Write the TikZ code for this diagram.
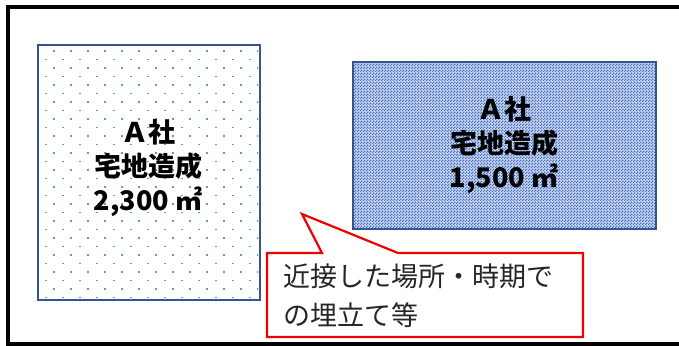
\documentclass[tikz,border=0pt]{standalone}
\usepackage{fontspec}
\usetikzlibrary{patterns}
\newfontfamily\jp{Noto Sans CJK JP}
\definecolor{boxedge}{RGB}{52,84,145}
\definecolor{dotblue}{RGB}{91,155,213}
\definecolor{checkbg}{RGB}{200,212,238}
\definecolor{checkfg}{RGB}{68,110,196}
\definecolor{callred}{RGB}{238,0,0}
\pgfdeclarepatternformonly{fineck}{\pgfpointorigin}{\pgfpoint{3pt}{3pt}}{\pgfpoint{3pt}{3pt}}{%
  \pgfpathrectangle{\pgfpointorigin}{\pgfpoint{1.5pt}{1.5pt}}%
  \pgfpathrectangle{\pgfpoint{1.5pt}{1.5pt}}{\pgfpoint{1.5pt}{1.5pt}}%
  \pgfusepath{fill}}
\tikzset{
  landbox/.style={draw=boxedge,line width=2.4pt},
  landtext/.style={align=center,font=\jp\bfseries\fontsize{27}{34}\selectfont,inner sep=0pt},
  calltext/.style={align=left,anchor=north west,font=\jp\fontsize{27}{39}\selectfont,text=black!85,inner sep=0pt},
}
\begin{document}
\begin{tikzpicture}[x=1pt,y=-1pt]
\useasboundingbox (0,0) rectangle (679,345);
% outer frame
\draw[line width=3.2pt,black] (8,7) rectangle (700,344);
% left box with dot pattern
\fill[white] (37,44) rectangle (259,299);
\begin{scope}
\clip (38,45) rectangle (258,298);
\foreach \k in {0,...,29}{
  \pgfmathsetmacro{\yy}{51+8.5*\k}
  \ifodd\k
    \foreach \j in {0,...,13}{\fill[dotblue] ({46+17*\j-1.3},{\yy-0.6}) rectangle ++(2.6,1.3);}
  \else
    \foreach \j in {0,...,12}{\fill[dotblue] ({54.3+17*\j-1},{\yy-1}) rectangle ++(2,2);}
  \fi
}
\end{scope}
\node[landbox,minimum width=222pt,minimum height=255pt,anchor=north west] (boxA) at (37,44) {};
\node[landtext] (txtA) at (148,168) {Ａ社\\宅地造成\\2,300 ㎡};
% right box
\fill[checkbg] (352,61) rectangle (655,228);
\fill[pattern=fineck,pattern color=checkfg] (352,61) rectangle (655,228);
\node[landbox,minimum width=303pt,minimum height=167pt,anchor=north west] (boxB) at (352,61) {};
\node[landtext] (txtB) at (504,145) {Ａ社\\宅地造成\\1,500 ㎡};
% callout
\coordinate (tip) at (302,214);
\draw[callred,line width=2.2pt,fill=white,line join=miter]
  (267,253) -- (322,253) -- (tip) -- (398,253) -- (583,253) -- (583,337) -- (267,337) -- cycle;
\node[calltext] (note) at (283,264) {近接した場所・時期で\\の埋立て等};
\end{tikzpicture}
\end{document}
